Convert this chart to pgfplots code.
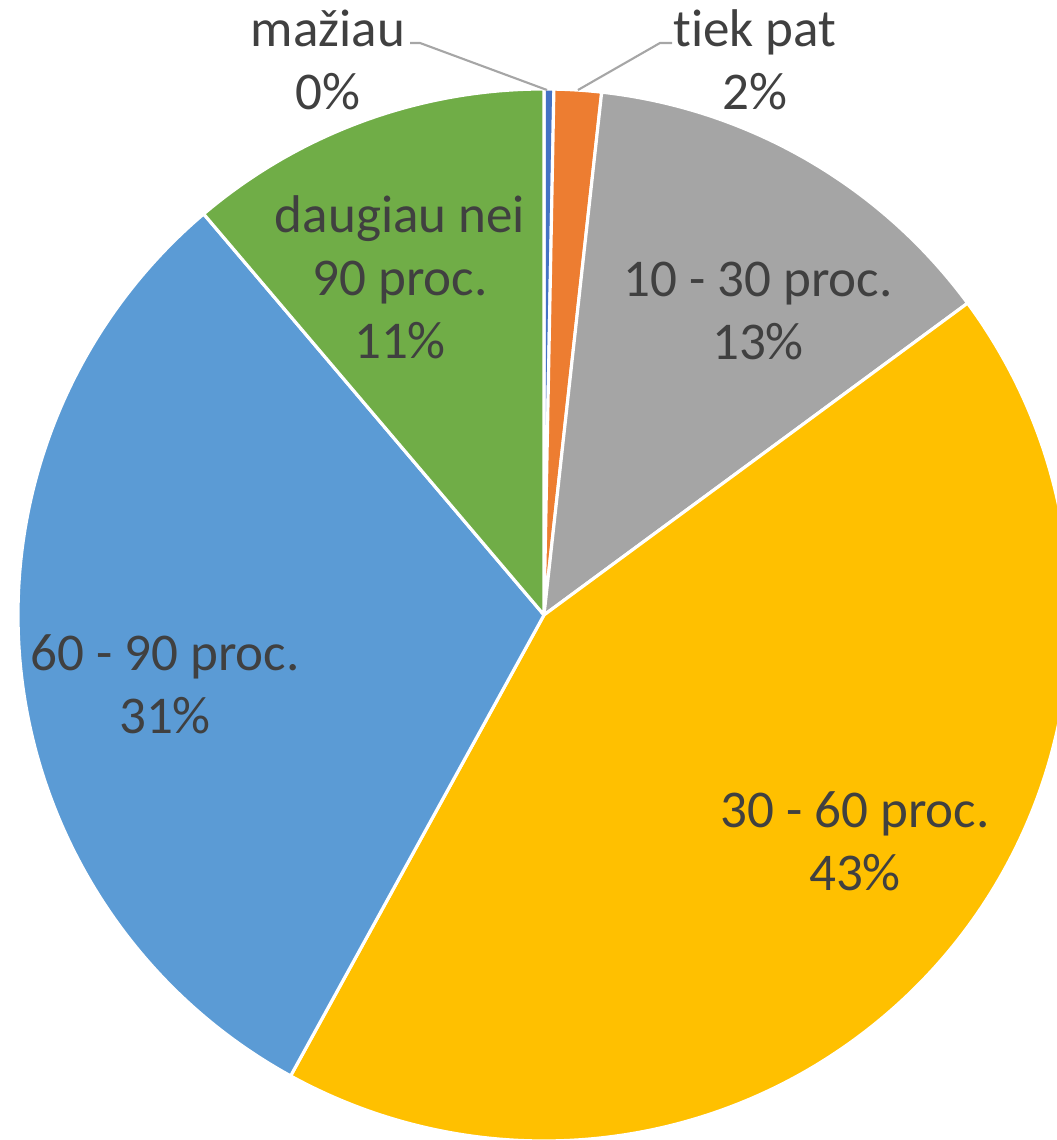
\documentclass[border=0pt]{standalone}
\usepackage{fontspec}
\setmainfont{Carlito}[Ligatures={NoCommon}]
\usepackage{pgfplots}
\usepackage{pgfplotstable}
\pgfplotsset{compat=1.18}

\definecolor{cMaz}{HTML}{4472C4}
\definecolor{cTiek}{HTML}{ED7D31}
\definecolor{cGray}{HTML}{A5A5A5}
\definecolor{cYel}{HTML}{FFC000}
\definecolor{cBlue}{HTML}{5B9BD5}
\definecolor{cGreen}{HTML}{70AD47}
\definecolor{txt}{HTML}{404040}
\definecolor{leader}{HTML}{A6A6A6}

% shares in percent, clockwise from 12 o'clock
\pgfplotstableread{
share clr
0.3   cMaz
1.45  cTiek
13.15 cGray
43.1  cYel
30.8  cBlue
11.2  cGreen
}\pietable

\begin{document}
\begin{tikzpicture}[lbl/.style={align=center, text=txt, font=\fontsize{15.1}{17.9}\selectfont}]
\begin{axis}[
    hide axis,
    x=1cm, y=1cm,
    xmin=0, xmax=10.56,
    ymin=0, ymax=11.40,
    clip=false,
]
\pgfplotsextra{
  \gdef\cum{0}
  \pgfplotstablegetrowsof{\pietable}
  \pgfmathtruncatemacro\lastrow{\pgfplotsretval-1}
  \foreach \i in {0,...,\lastrow}{
    \pgfplotstablegetelem{\i}{share}\of\pietable \let\val\pgfplotsretval
    \pgfplotstablegetelem{\i}{clr}\of\pietable \let\clr\pgfplotsretval
    \pgfmathsetmacro\sa{90-3.6*\cum}
    \pgfmathsetmacro\ea{90-3.6*(\cum+\val)}
    \fill[\clr, draw=white, line width=0.9pt, line join=round]
      (axis cs:5.44,5.25) -- ++(\sa:5.26cm) arc[start angle=\sa, end angle=\ea, radius=5.26cm] -- cycle;
    \pgfmathsetmacro\nc{\cum+\val}\xdef\cum{\nc}
  }
}
% leader lines
\draw[leader, line width=0.6pt] (axis cs:4.10,10.97) -- (axis cs:4.20,10.97) -- (axis cs:5.47,10.50);
\draw[leader, line width=0.6pt] (axis cs:5.78,10.50) -- (axis cs:6.60,10.97) -- (axis cs:6.72,10.97);
% labels
\node[lbl] at (axis cs:3.28,10.80) {mažiau\\0\%};
\node[lbl] at (axis cs:7.55,10.80) {t\kern0pt iek pat\\2\%};
\node[lbl] at (axis cs:4.00,8.63) {daugiau nei\\90 proc.\\11\%};
\node[lbl] at (axis cs:7.58,8.29) {10 - 30 proc.\\13\%};
\node[lbl] at (axis cs:8.55,2.99) {30 - 60 proc.\\43\%};
\node[lbl] at (axis cs:1.65,4.56) {60 - 90 proc.\\31\%};
\coordinate (bl) at (axis cs:0,0);
\coordinate (tr) at (axis cs:10.56,11.40);
\end{axis}
\pgfresetboundingbox
\path (bl) rectangle (tr);
\end{tikzpicture}
\end{document}
